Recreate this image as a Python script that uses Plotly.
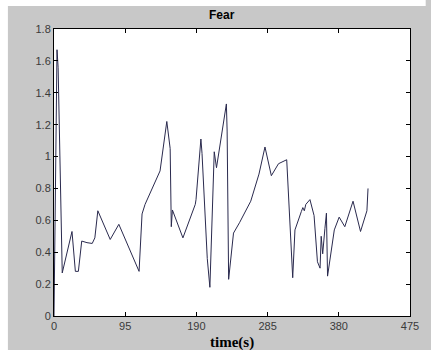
import plotly.graph_objects as go

time_s = [0, 1.5, 4, 5.5, 7.5, 9.5, 11, 24, 28.5, 32.5, 37, 44, 51, 54.5, 58.5, 75, 86.5,
          113.5, 117.5, 121.5, 141.5, 150.5, 155, 156.5, 158, 172, 188.5, 189.5, 196, 197.5,
          204.5, 208, 212.5, 213.8, 216.8, 219, 230, 231, 233, 239.5, 247.5, 262.5, 273.5,
          281.5, 290, 299.5, 310.5, 318.5, 321.5, 330, 332, 334, 336, 341.5, 347, 351.5,
          355, 356.5, 358.5, 361.5, 363.5, 365, 374, 380.5, 388, 399, 409, 417.5, 419]
fear = [0.0, 0.66, 1.67, 1.56, 1.08, 0.62, 0.27, 0.53, 0.28, 0.28, 0.47, 0.46, 0.455, 0.49,
        0.66, 0.48, 0.575, 0.28, 0.64, 0.70, 0.91, 1.22, 1.05, 0.56, 0.665, 0.49, 0.70, 0.73,
        1.11, 1.02, 0.36, 0.18, 0.94, 1.03, 0.93, 1.0, 1.33, 1.16, 0.23, 0.52, 0.585, 0.72,
        0.89, 1.06, 0.88, 0.955, 0.98, 0.24, 0.54, 0.655, 0.68, 0.66, 0.70, 0.73, 0.63, 0.34,
        0.30, 0.50, 0.39, 0.55, 0.645, 0.25, 0.54, 0.62, 0.56, 0.72, 0.53, 0.66, 0.80]

x_ticks = [0, 95, 190, 285, 380, 475]
y_ticks = [0, 0.2, 0.4, 0.6, 0.8, 1, 1.2, 1.4, 1.6, 1.8]
y_tick_text = ["0", "0.2", "0.4", "0.6", "0.8", "1", "1.2", "1.4", "1.6", "1.8"]

fig = go.Figure()
fig.add_trace(go.Scatter(x=time_s, y=fear, mode="lines",
                         line=dict(color="#2a2a4e", width=1), showlegend=False,
                         hoverinfo="skip"))

tick_font = dict(family="Liberation Sans, Arial, sans-serif", size=11, color="#3a3a3a")
axis_common = dict(showline=True, linecolor="black", linewidth=1, mirror="ticks",
                   ticks="inside", ticklen=4, tickcolor="black", showgrid=False,
                   zeroline=False, tickfont=tick_font)

fig.update_xaxes(range=[0, 475], tickvals=x_ticks, ticktext=[str(v) for v in x_ticks],
                 **axis_common)
fig.update_yaxes(range=[0, 1.8], tickvals=y_ticks, ticktext=y_tick_text, **axis_common)

W, H = 431, 350
L, R, T, B = 54, 14, 29, 34
pw, ph = W - L - R, H - T - B

def px_x(x):
    return (x - L) / pw

def px_y(y):
    return (H - B - y) / ph

fig.update_layout(
    width=W, height=H,
    margin=dict(l=L, r=R, t=T, b=B),
    paper_bgcolor="#c8c8c8",
    plot_bgcolor="white",
    shapes=[
        dict(type="rect", xref="paper", yref="paper", x0=px_x(-2), x1=px_x(7),
             y0=px_y(H + 2), y1=px_y(-2), fillcolor="white", line=dict(width=0), layer="above"),
        dict(type="rect", xref="paper", yref="paper", x0=px_x(-2), x1=px_x(W + 2),
             y0=px_y(6), y1=px_y(-2), fillcolor="white", line=dict(width=0), layer="above"),
    ],
    annotations=[
        dict(text="<b>Fear</b>", xref="paper", yref="paper", x=px_x(225.5), y=px_y(15),
             xanchor="center", yanchor="middle", showarrow=False,
             font=dict(family="Liberation Sans, Arial, sans-serif", size=12, color="black")),
        dict(text="<b>time(s)</b>", xref="paper", yref="paper", x=px_x(235.5), y=px_y(342),
             xanchor="center", yanchor="middle", showarrow=False,
             font=dict(family="Liberation Serif", size=15, color="black")),
    ],
)

fig.write_html("out.html")
